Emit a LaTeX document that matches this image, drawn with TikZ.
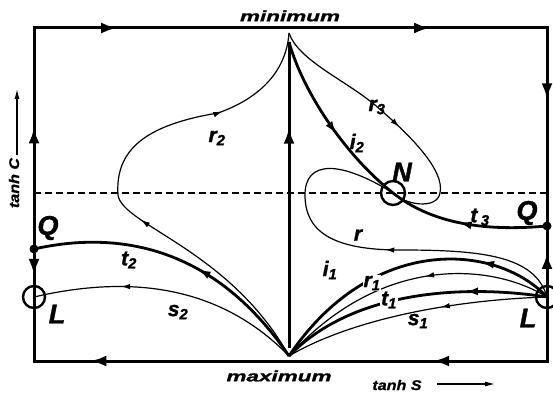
\documentclass[tikz,border=0pt]{standalone}
\usepackage{fontspec}
\setmainfont{Liberation Sans}
\newfontfamily\widefont[FakeStretch=1.5, FakeBold=1.2]{Liberation Sans}
\newfontfamily\axfont[FakeStretch=1.15, FakeBold=1]{Liberation Sans}
\newfontfamily\heavyfont[FakeBold=1.4]{Liberation Sans}
\usetikzlibrary{arrows.meta,positioning,decorations.markings}

\newcommand{\sub}[2]{#1\textsubscript{#2}}

\begin{document}
\begin{tikzpicture}[x=1pt, y=-1pt,
    frame/.style={line width=3pt, line cap=rect},
    heavy/.style={line width=2.8pt},
    light/.style={line width=1.2pt},
    bigarr/.style={postaction={decorate, decoration={markings, mark=at position #1 with {\arrow{Latex[length=16pt,width=11pt]}}}}},
    midarr/.style={postaction={decorate, decoration={markings, mark=at position #1 with {\arrow{Latex[length=13pt,width=8pt]}}}}},
    smallarr/.style={postaction={decorate, decoration={markings, mark=at position #1 with {\arrow{Latex[length=9pt,width=5.5pt]}}}}},
    fixpt/.style={circle, draw, line width=2.4pt, minimum size=22pt, inner sep=0pt},
    dot/.style={circle, fill, minimum size=9pt, inner sep=0pt},
    lbl/.style={font=\heavyfont\fontsize{21}{21}\selectfont\bfseries\itshape, inner sep=1pt},
    big/.style={font=\heavyfont\fontsize{27}{27}\selectfont\bfseries\itshape},
    axis/.style={font=\widefont\fontsize{15}{15}\selectfont\bfseries\itshape},
    axis small/.style={font=\axfont\fontsize{14}{14}\selectfont\bfseries\itshape},
    axarrow/.style={line width=1.1pt, -{Latex[length=10pt,width=5pt]}}
]
    \useasboundingbox (0,0) rectangle (553,395);

    \coordinate (tl) at (34,28);
    \coordinate (tr) at (547,28);
    \coordinate (br) at (547,361);
    \coordinate (bl) at (34,361);
    \coordinate (top) at (289,33);
    \coordinate (bot) at (289,356);
    \coordinate (vtop) at (289,42);
    \coordinate (vbot) at (289,348);

    \node[dot] (Ql) at (34,249) {};
    \node[fixpt] (Ll) at (34,297) {};
    \node[dot] (Qr) at (547,226) {};
    \node[fixpt] (Lr) at (547,297) {};
    \node[fixpt, minimum size=24pt] (N) at (393,193) {};

    % frame
    \draw[frame, bigarr=0.162, bigarr=0.772] (tl) -- (tr);
    \draw[frame, bigarr=0.36] (tr) -- (Qr.center);
    \draw[frame, bigarr=0.62] (Lr.center) -- (Qr.center);
    \draw[frame] (Lr.center) -- (br);
    \draw[frame, bigarr=0.222, bigarr=0.89] (br) -- (bl);
    \draw[frame] (bl) -- (Ll.center);
    \draw[frame, bigarr=0.54] (Ql.center) -- (Ll.center);
    \draw[frame, bigarr=0.55] (Ql.center) -- (tl);

    \draw[light, dash pattern=on 7pt off 4pt] (tl |- N) -- (tr |- N);
    \draw[frame, line cap=butt, bigarr=0.72] (vbot) -- (vtop);

    % separatrices and trajectories
    \draw[light, smallarr=0.41, smallarr=0.78] (bot) .. controls (230,250) and (122,225) .. (118,195)
        .. controls (115,150) and (145,125) .. (218,113) .. controls (255,100) and (286,75) .. (top);
    \draw[light, smallarr=0.52] (top) .. controls (298,60) and (345,80) .. (375,105)
        .. controls (410,135) and (445,170) .. (440,193) .. controls (437,210) and (405,205) .. (N.center);
    \draw[heavy, midarr=0.56] (vtop) .. controls (303,92) and (345,155) .. (N.center);
    \draw[heavy, midarr=0.55] (Qr.center) .. controls (480,232) and (430,222) .. (N.center);
    \draw[light, smallarr=0.45] (Lr.center) .. controls (535,255) and (480,250) .. (400,250)
        .. controls (330,250) and (305,230) .. (305,195) .. controls (305,160) and (340,160) .. (N.center);
    \draw[heavy, midarr=0.25] (Lr.center) .. controls (495,242) and (370,235) .. (bot);
    \draw[light, smallarr=0.44] (Lr.center) .. controls (490,262) and (380,255) .. (bot);
    \draw[heavy, midarr=0.3] (Lr.center) .. controls (470,285) and (355,288) .. (bot);
    \draw[light, smallarr=0.4] (Lr.center) .. controls (450,300) and (350,320) .. (bot);
    \draw[heavy, midarr=0.43] (bot) .. controls (210,240) and (110,232) .. (Ql.center);
    \draw[light, smallarr=0.68] (bot) .. controls (215,280) and (120,277) .. (Ll.center);

    % labels
    \node[lbl] (r2) at (217,138) {\sub{r}{2}};
    \node[lbl] (r3) at (377,107) {\sub{r}{3}};
    \node[lbl] (i2) at (357,143) {\sub{i}{2}};
    \node[lbl] (t3) at (480,217) {t\,\textsubscript{3}};
    \node[lbl] (r) at (358,235) {r};
    \node[lbl] (i1) at (330,270) {\sub{i}{1}};
    \node[lbl, fill=white] (r1) at (372,283) {\sub{r}{1}};
    \node[lbl, fill=white] (t1) at (389,300) {\sub{t}{1}};
    \node[lbl] (s1) at (418,321) {\sub{s}{1}};
    \node[lbl] (t2) at (129,260) {\sub{t}{2}};
    \node[lbl] (s2) at (178,312) {\sub{s}{2}};

    \node[big] (Qllbl) at (48,228) {Q};
    \node[big] (Lllbl) at (57,314) {L};
    \node[big] (Qrlbl) at (527,213) {Q};
    \node[big] (Lrlbl) at (528,318) {L};
    \node[big] (Nlbl) at (402,172) {N};

    \node[axis] (minlbl) at (290,16) {minimum};
    \node[axis] (maxlbl) at (279,376) {maximum};
    \node[axis small] (tanhS) at (397,385) {tanh S};
    \node[axis small, rotate=90] (tanhC) at (14,183) {tanh C};
    \coordinate (sfoot) at (437,384);
    \coordinate (shead) at (495,384);
    \coordinate (cfoot) at (17,155);
    \coordinate (chead) at (17,89);
    \draw[axarrow] (sfoot) -- (shead);
    \draw[axarrow] (cfoot) -- (chead);
\end{tikzpicture}
\end{document}
